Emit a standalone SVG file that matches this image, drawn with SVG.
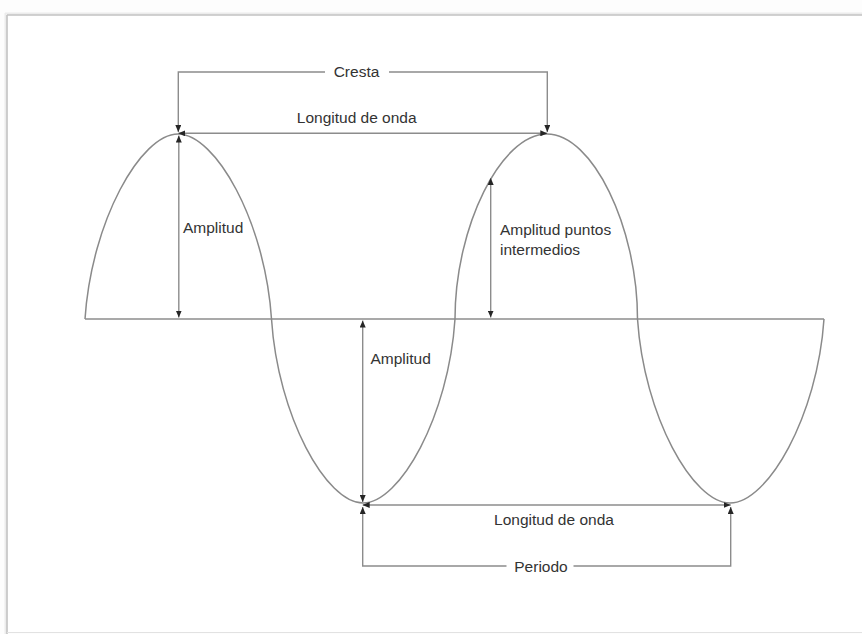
<svg xmlns="http://www.w3.org/2000/svg" width="862" height="634" viewBox="0 0 862 634">
  <defs>
    <marker id="arrow" viewBox="0 0 7 6" refX="7" refY="3" markerWidth="7" markerHeight="6" markerUnits="userSpaceOnUse" orient="auto-start-reverse">
      <path d="M0,0 L7,3 L0,6 z" fill="#262626"/>
    </marker>
  </defs>
  <style>
    .line { fill: none; stroke: #8c8c8c; stroke-width: 1.4; }
    .wave { fill: none; stroke: #8a8a8a; stroke-width: 1.5; }
    .dim { fill: none; stroke: #8c8c8c; stroke-width: 1.4; }
    .both { marker-start: url(#arrow); marker-end: url(#arrow); }
    .end { marker-end: url(#arrow); }
    .label { font-family: "Liberation Sans", Arial, sans-serif; font-size: 15.5px; fill: #333; }
    .mid { text-anchor: middle; }
  </style>

  <rect x="0" y="0" width="862" height="634" fill="#fdfdfd"/>

  <!-- page frame with soft edge on the top and left -->
  <g id="frame">
    <rect x="7" y="15" width="870" height="617" fill="#ffffff"/>
    <line x1="5" y1="13.5" x2="862" y2="13.5" stroke="#ececec" stroke-width="2"/>
    <line x1="5.5" y1="13" x2="5.5" y2="634" stroke="#ececec" stroke-width="2"/>
    <line x1="7" y1="15" x2="862" y2="15" stroke="#c2c2c2" stroke-width="1.6"/>
    <line x1="7" y1="15" x2="7" y2="634" stroke="#c2c2c2" stroke-width="1.6"/>
    <line x1="7" y1="632.5" x2="862" y2="632.5" stroke="#e2e2e2" stroke-width="1"/>
  </g>

  <!-- horizontal axis -->
  <g id="axis">
    <line class="line" x1="85" y1="319" x2="824" y2="319"/>
  </g>

  <!-- two full periods of the wave -->
  <g id="wave">
    <path class="wave" d="M85,319
      C91.5,221 140.8,134 178,134
      C215.4,134 265,221 271.5,319
      C277.9,416.5 326.4,503 363,503
      C399.8,503 448.6,416.5 455,319
      C455,226.5 501,134 547,134
      C592.3,134 637.5,226.5 637.5,319
      C644,416.5 693,503 730,503
      C767.6,503 817.4,416.5 824,319"/>
  </g>

  <!-- dimension lines -->
  <g id="connectors">
    <path class="dim end" d="M325,72 H178.3 V132"/>
    <path class="dim end" d="M389,72 H547.3 V132"/>
    <line class="dim both" x1="178.3" y1="133.3" x2="547.3" y2="133.3"/>
    <line class="dim both" x1="178.8" y1="135.5" x2="178.8" y2="317.5"/>
    <line class="dim both" x1="490.7" y1="178" x2="490.7" y2="317.5"/>
    <line class="dim both" x1="362.7" y1="320.5" x2="362.7" y2="502"/>
    <line class="dim both" x1="362.7" y1="505" x2="730.7" y2="505"/>
    <path class="dim end" d="M506.5,566 H362.7 V507"/>
    <path class="dim end" d="M573.5,566 H730.7 V507"/>
  </g>

  <!-- labels -->
  <g id="label-cresta">
    <text class="label mid" x="356.5" y="77">Cresta</text>
  </g>
  <g id="label-longitud-top">
    <text class="label mid" x="356.7" y="122.5">Longitud de onda</text>
  </g>
  <g id="label-amplitud-left">
    <text class="label" x="183" y="233">Amplitud</text>
  </g>
  <g id="label-amplitud-intermedios">
    <text class="label" x="500" y="235">Amplitud puntos</text>
    <text class="label" x="500" y="255">intermedios</text>
  </g>
  <g id="label-amplitud-middle">
    <text class="label" x="370.5" y="364">Amplitud</text>
  </g>
  <g id="label-longitud-bottom">
    <text class="label mid" x="554" y="524.5">Longitud de onda</text>
  </g>
  <g id="label-periodo">
    <text class="label mid" x="541" y="571.5">Periodo</text>
  </g>
</svg>
